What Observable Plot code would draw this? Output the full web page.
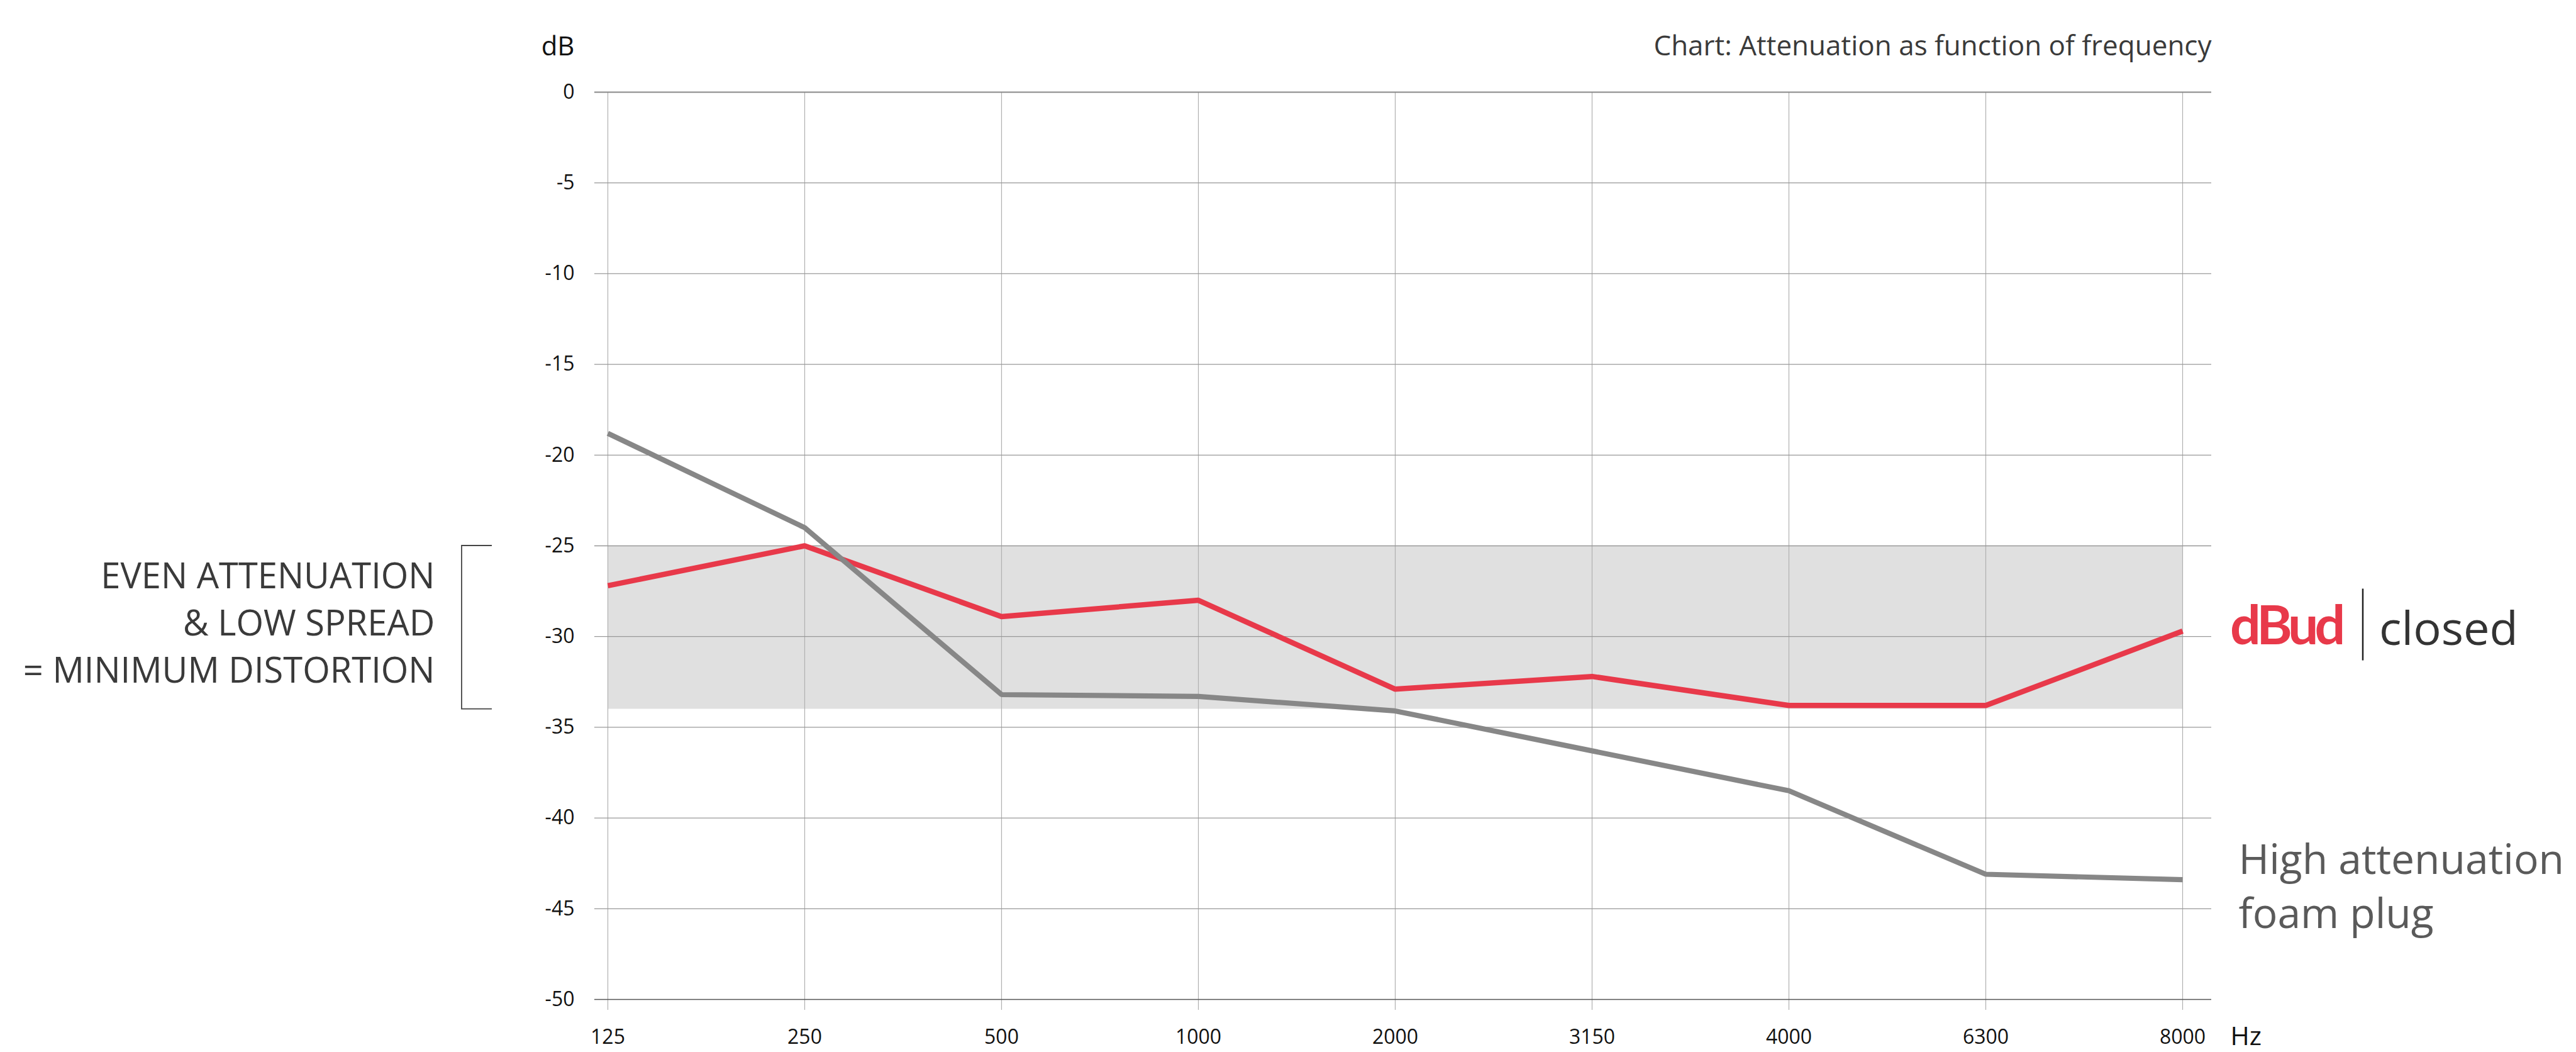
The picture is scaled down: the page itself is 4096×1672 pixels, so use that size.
<!DOCTYPE html>
<html><head><meta charset="utf-8">
<script src="https://cdn.jsdelivr.net/npm/d3@7"></script>
<script src="https://cdn.jsdelivr.net/npm/@observablehq/plot@0.6"></script>
<style>
html,body{margin:0;padding:0;background:#fff;}
body{width:4096px;height:1672px;overflow:hidden;}
svg{display:block;}
</style></head><body><div id="chart"></div>
<script>
// ---- data ----
const frequencies = ["125","250","500","1000","2000","3150","4000","6300","8000"];
const dbudClosed = [-27.2, -25.0, -28.9, -28.0, -32.9, -32.2, -33.8, -33.8, -29.7];
const foamPlug   = [-18.8, -24.0, -33.2, -33.3, -34.1, -36.3, -38.5, -43.1, -43.4];
const yTicks = [0, -5, -10, -15, -20, -25, -30, -35, -40, -45, -50];
const bandHigh = -25;
const bandLow = -34;
const titleText = "Chart: Attenuation as function of frequency";
const yUnit = "dB";
const xUnit = "Hz";
const annotationLines = ["EVEN ATTENUATION", "& LOW SPREAD", "= MINIMUM DISTORTION"];
const brandName = "dBud";
const brandVariant = "closed";
const foamLabelLines = ["High attenuation", "foam plug"];

// ---- layout ----
const W = 4096, H = 1672;
const FONT = "'Open Sans', 'Noto Sans', sans-serif";
const RED = "#e8394a", GRAY = "#878787";

const redData = frequencies.map((f, i) => ({f, v: dbudClosed[i]}));
const grayData = frequencies.map((f, i) => ({f, v: foamPlug[i]}));
const innerTicks = yTicks.filter(t => t !== 0 && t !== -50);

const plot = Plot.plot({
  width: W, height: H,
  marginLeft: 945, marginRight: 580, marginTop: 146, marginBottom: 84,
  style: {fontFamily: FONT, background: "#fff", color: "#111", overflow: "visible"},
  x: {type: "point", domain: frequencies, padding: 0, insetLeft: 20, insetRight: 46},
  y: {domain: [-50, 0]},
  marks: [
    Plot.areaY([frequencies[0], frequencies[frequencies.length - 1]],
      {x: d => d, y1: bandLow, y2: bandHigh, fill: "#e0e0e0"}),
    Plot.gridX({stroke: "#b0b0b0", strokeOpacity: 1, strokeWidth: 1.2}),
    Plot.axisX({tickSize: 17, tickPadding: 31, stroke: "#b0b0b0", strokeOpacity: 1, strokeWidth: 1.2,
      fontSize: 32, label: null}),
    Plot.ruleY(innerTicks, {stroke: "#999", strokeWidth: 1.3}),
    Plot.ruleY([0], {stroke: "#888", strokeWidth: 2}),
    Plot.ruleY([-50], {stroke: "#555", strokeWidth: 1.5}),
    Plot.axisY({ticks: yTicks, tickSize: 0, tickPadding: 32, tickFormat: d => String(d),
      fontSize: 32, label: null}),
    Plot.lineY(redData, {x: "f", y: "v", stroke: RED, strokeWidth: 8.5, strokeLinejoin: "miter", strokeLinecap: "butt"}),
    Plot.lineY(grayData, {x: "f", y: "v", stroke: GRAY, strokeWidth: 8.2, strokeLinejoin: "miter", strokeLinecap: "butt"}),
    Plot.text([yUnit], {frameAnchor: "top-left", dx: -32, dy: -59, textAnchor: "end", lineAnchor: "bottom",
      fontSize: 42, fill: "#111"}),
    Plot.text([titleText], {frameAnchor: "top-right", dy: -59, textAnchor: "end", lineAnchor: "bottom",
      fontSize: 44, fill: "#3a3a3a"}),
    Plot.text([xUnit], {frameAnchor: "bottom-right", dx: 30, dy: 72, textAnchor: "start", lineAnchor: "bottom",
      fontSize: 41, fill: "#111"}),
    Plot.text([annotationLines.join("\n")], {x: () => frequencies[0], y: () => (bandHigh + bandLow) / 2,
      dx: -275, dy: -11, textAnchor: "end", lineAnchor: "middle", lineHeight: 1.34,
      fontSize: 56, fill: "#3a3a3a"}),
    Plot.text([foamLabelLines.join("\n")], {x: () => frequencies[frequencies.length - 1],
      y: () => foamPlug[foamPlug.length - 1], dx: 89, dy: 77, textAnchor: "start", lineAnchor: "bottom",
      lineHeight: 1.3, fontSize: 66, fill: "#5a5a5a"})
  ]
});

document.getElementById("chart").appendChild(plot);

// ---- annotation bracket and brand label, placed with the plot's scales ----
const xs = plot.scale("x"), ys = plot.scale("y");
const svg = d3.select(plot);
const x0 = xs.apply(frequencies[0]);
const yTop = ys.apply(bandHigh), yBot = ys.apply(bandLow);
svg.append("path")
  .attr("d", `M${x0 - 184},${yTop}H${x0 - 232}V${yBot}H${x0 - 184}`)
  .attr("fill", "none").attr("stroke", "#444").attr("stroke-width", 1.8);

const xe = xs.apply(frequencies[frequencies.length - 1]);
const ye = ys.apply(dbudClosed[dbudClosed.length - 1]);
svg.append("text").text(brandName)
  .attr("x", xe + 76).attr("y", ye + 21).attr("text-anchor", "start")
  .attr("fill", RED).attr("font-family", "Lato, 'Open Sans', sans-serif").attr("font-weight", 700)
  .attr("font-size", 86).attr("letter-spacing", -6);
svg.append("line")
  .attr("x1", xe + 287).attr("x2", xe + 287).attr("y1", ye - 67).attr("y2", ye + 47)
  .attr("stroke", "#222").attr("stroke-width", 2.5);
svg.append("text").text(brandVariant)
  .attr("x", xe + 313).attr("y", ye + 22).attr("text-anchor", "start")
  .attr("fill", "#333").attr("font-family", FONT).attr("font-size", 74);
</script></body></html>
